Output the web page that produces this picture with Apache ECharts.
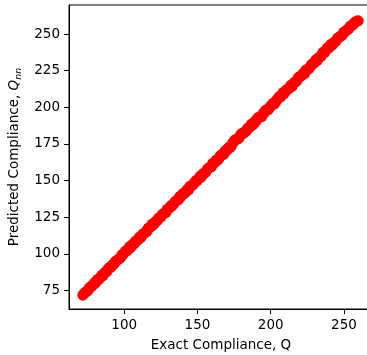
<!DOCTYPE html>
<html>
<head>
<meta charset="utf-8">
<script src="https://cdn.jsdelivr.net/npm/echarts@6/dist/echarts.min.js"></script>
<style>
  html, body { margin: 0; padding: 0; background: #fff; }
  #chart { width: 367px; height: 355px; }
</style>
</head>
<body>
<div id="chart"></div>
<script>
// Exact vs. predicted compliance samples (two interleaved batches)
const exactQ = [
  71.8, 73.5, 75.2, 77.0, 78.6, 80.4, 82.1, 83.9, 85.5, 87.3,
  89.0, 90.8, 92.4, 94.1, 95.9, 97.6, 99.2, 101.0, 102.7, 104.5,
  106.1, 107.9, 109.6, 111.3, 113.0, 114.8, 116.4, 118.2, 119.9, 121.6,
  123.3, 125.1, 126.8, 128.5, 130.2, 131.9, 133.7, 135.4, 137.1, 138.8,
  140.5, 142.3, 144.0, 145.7, 147.4, 149.1, 150.9, 152.6, 154.3, 156.0,
  157.7, 159.5, 161.2, 162.9, 164.6, 166.3, 168.1, 169.8, 171.5, 173.2,
  174.9, 176.7, 178.4, 180.1, 181.8, 183.5, 185.3, 187.0, 188.7, 190.4,
  192.1, 193.9, 195.6, 197.3, 199.0, 200.7, 202.5, 204.2, 205.9, 207.6,
  209.3, 211.1, 212.8, 214.5, 216.2, 217.9, 219.7, 221.4, 223.1, 224.8,
  226.5, 228.3, 230.0, 231.7, 233.4, 235.1, 236.9, 238.6, 240.3, 242.0,
  243.7, 245.5, 247.2, 248.9, 250.6, 252.3, 254.1, 255.8, 257.5, 259.7
];
const predictedQ = [
  71.8, 73.8, 75.0, 77.4, 78.7, 80.1, 82.6, 84.1, 85.1, 87.6,
  89.6, 90.7, 92.6, 94.9, 96.2, 97.4, 99.7, 102.0, 103.1, 104.4,
  106.7, 108.8, 109.8, 111.0, 113.7, 115.2, 117.5, 118.5, 119.7, 122.1,
  124.1, 125.2, 127.4, 128.2, 130.6, 132.9, 133.9, 136.1, 137.0, 139.3,
  141.4, 142.6, 143.6, 146.3, 147.6, 150.1, 151.3, 152.4, 155.0, 156.3,
  158.6, 159.4, 161.7, 164.1, 165.0, 167.1, 168.1, 170.4, 172.8, 173.7,
  176.7, 178.1, 179.1, 182.1, 183.0, 184.0, 186.2, 188.6, 189.0, 191.2,
  193.2, 193.7, 196.2, 198.3, 199.4, 201.6, 202.2, 204.9, 207.3, 208.1,
  209.5, 212.2, 213.4, 214.1, 217.0, 218.2, 220.9, 221.9, 222.9, 225.7,
  226.9, 229.6, 230.7, 231.8, 234.4, 236.6, 237.5, 240.6, 241.5, 242.4,
  244.6, 247.1, 248.2, 249.2, 251.4, 252.8, 255.2, 256.0, 258.1, 259.0
];
const exactQ2 = [
  72.6, 74.4, 76.1, 77.8, 79.5, 81.3, 83.0, 84.7, 86.4, 88.1,
  89.9, 91.6, 93.3, 95.0, 96.8, 98.4, 100.1, 101.9, 103.6, 105.3,
  107.0, 108.8, 110.5, 112.2, 113.9, 115.6, 117.3, 119.1, 120.8, 122.5,
  124.2, 126.0, 127.7, 129.4, 131.1, 132.8, 134.6, 136.3, 138.0, 139.7,
  141.4, 143.2, 144.9, 146.6, 148.3, 150.0, 151.8, 153.5, 155.2, 156.9,
  158.6, 160.4, 162.1, 163.8, 165.5, 167.2, 169.0, 170.7, 172.4, 174.1,
  175.8, 177.6, 179.3, 181.0, 182.7, 184.4, 186.2, 187.9, 189.6, 191.3,
  193.0, 194.8, 196.5, 198.2, 199.9, 201.6, 203.4, 205.1, 206.8, 208.5,
  210.2, 212.0, 213.7, 215.4, 217.1, 218.8, 220.6, 222.3, 224.0, 225.7,
  227.4, 229.2, 230.9, 232.6, 234.3, 236.0, 237.8, 239.5, 241.2, 242.9,
  244.6, 246.4, 248.1, 249.8, 251.5, 253.2, 255.0, 256.7, 258.6
];
const predictedQ2 = [
  72.8, 74.3, 76.6, 77.8, 79.9, 82.0, 82.8, 85.3, 86.7, 87.8,
  90.7, 92.0, 93.4, 95.5, 96.7, 99.3, 100.7, 102.1, 104.8, 106.0,
  107.0, 109.2, 111.5, 112.8, 114.1, 115.4, 118.0, 120.3, 121.2, 122.6,
  124.8, 126.9, 128.0, 130.5, 131.6, 132.8, 135.4, 136.7, 139.2, 140.4,
  141.5, 144.1, 146.2, 146.9, 148.9, 150.2, 152.9, 154.3, 155.2, 157.9,
  159.1, 161.7, 162.8, 164.0, 166.9, 168.1, 170.5, 171.5, 172.7, 175.7,
  177.9, 178.5, 181.0, 182.0, 183.3, 185.8, 186.9, 188.1, 190.9, 192.9,
  193.5, 195.8, 198.0, 198.3, 200.7, 202.8, 204.0, 206.2, 207.1, 210.1,
  211.1, 212.4, 215.0, 216.1, 217.3, 220.2, 221.2, 223.3, 225.5, 226.0,
  228.5, 229.8, 232.5, 233.6, 234.7, 237.8, 239.0, 240.3, 243.1, 244.0,
  245.1, 247.7, 248.8, 251.2, 252.4, 253.5, 255.8, 257.1, 258.8
];
const xTicks = [100, 150, 200, 250];
const yTicks = [75, 100, 125, 150, 175, 200, 225, 250];

const FONT = 'DejaVu Sans';
const points = exactQ.map((x, i) => [x, predictedQ[i]])
  .concat(exactQ2.map((x, i) => [x, predictedQ2[i]]));

const chart = echarts.init(document.getElementById('chart'), null, { renderer: 'canvas' });

function valueAxis(ticks, extra) {
  return Object.assign({
    type: 'value',
    min: 62.35,
    max: 269.8,
    splitLine: { show: false },
    axisLine: { show: true, onZero: false, lineStyle: { color: '#000', width: 1 } },
    axisTick: { show: true, inside: false, length: 5, customValues: ticks,
                lineStyle: { color: '#000', width: 1 } },
    axisLabel: { show: true, margin: 9, customValues: ticks,
                 fontFamily: FONT, fontSize: 13.5, color: '#000' },
    nameLocation: 'middle',
    nameTextStyle: { fontFamily: FONT, fontSize: 13.5, color: '#000' }
  }, extra);
}

chart.setOption({
  animation: false,
  backgroundColor: '#fff',
  grid: {
    left: 69, top: 5, width: 304, height: 304,
    outerBoundsMode: 'none',
    containLabel: false,
    show: true, borderColor: '#000', borderWidth: 1, backgroundColor: 'transparent'
  },
  xAxis: valueAxis(xTicks, {
    name: 'Exact Compliance, Q',
    nameGap: 29
  }),
  yAxis: valueAxis(yTicks, {
    name: '{t|Predicted Compliance, }{q|Q}{s|nn}',
    nameGap: 44,
    nameRotate: 90,
    nameTextStyle: {
      fontFamily: FONT, fontSize: 13.5, color: '#000',
      rich: {
        t: { fontFamily: FONT, fontSize: 13.5, color: '#000' },
        q: { fontFamily: FONT, fontSize: 13.5, color: '#000', fontStyle: 'italic' },
        s: { fontFamily: FONT, fontSize: 9.5, color: '#000', fontStyle: 'italic',
             padding: [7, 0, 0, 0] }
      }
    }
  }),
  series: [{
    type: 'scatter',
    data: points,
    symbol: 'circle',
    symbolSize: 11,
    itemStyle: { color: '#ff0000', opacity: 1 },
    clip: false
  }]
});
</script>
</body>
</html>
